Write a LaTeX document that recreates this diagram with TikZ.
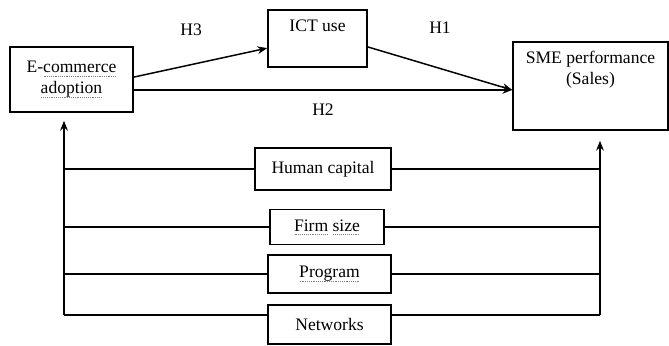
\documentclass[tikz,border=0pt]{standalone}
\usepackage{fontspec}
\setmainfont{Liberation Serif}
\usepackage{xcolor}
\usetikzlibrary{positioning,arrows,arrows.meta}

% spell-check style underline
\newsavebox{\spellbox}
\newcommand{\spell}[1]{\leavevmode\sbox{\spellbox}{#1}%
	\rlap{\color{gray}\raisebox{-2.6pt}{\hbox to \wd\spellbox{\xleaders\hbox to 1.3pt{\hss\rule{0.7pt}{0.6pt}\hss}\hfill}}}%
	\usebox{\spellbox}}

\begin{document}
\begin{tikzpicture}[x=0.025cm, y=-0.025cm, >={Stealth[length=7pt,width=5.5pt]}, line width=1.05pt,
	every node/.style={font=\fontsize{12.5}{15}\selectfont},
	factor/.style={rectangle, draw, align=center, inner sep=0pt}]
	\useasboundingbox (0,0) rectangle (669,345);

	\node[factor, minimum width=3.075cm, minimum height=1.625cm] (ecom) at (71.5,79.5) {E-\spell{commerce}\\\spell{adoption}};
	\node[factor, minimum width=2.475cm, minimum height=1.425cm,
		label={[anchor=north, yshift=-0.13cm]north:ICT use}] (ict) at (317.5,38.5) {};
	\node[factor, minimum width=3.875cm, minimum height=2.2cm,
		label={[anchor=north, align=center, yshift=-0.12cm]north:SME performance\\(Sales)}] (sme) at (590.5,86) {};

	\node[factor, minimum width=3.4cm, minimum height=1.05cm] (hum) at (323,169) {Human capital};
	\node[factor, minimum width=2.85cm, minimum height=0.875cm] (firm) at (327,227) {\spell{Firm} \spell{size}};
	\node[factor, minimum width=3.075cm, minimum height=0.95cm] (prog) at (329.5,274) {\spell{Program}};
	\node[factor, minimum width=3.075cm, minimum height=0.975cm] (net) at (329.5,324.5) {Networks};

	% hypotheses
	\draw[->] ([yshift=0.06cm]ecom.east) -- node[pos=0.43, above=0.58cm] (h3) {H3} ([yshift=-0.24cm]ict.west);
	\draw[->] ([yshift=-0.21cm]ict.east) -- node[above=0.75cm] (h1) {H1} ([yshift=-0.1cm]sme.west);
	\draw[->] ([yshift=-0.26cm]ecom.east) -- node[below=0.22cm] (h2) {H2} ([yshift=-0.26cm]ecom.east -| sme.west);

	% moderators
	\coordinate (lbus) at (64,315);
	\coordinate (rbus) at (600,315);
	\draw[->, shorten >=0.2cm] (lbus) -- (lbus |- ecom.south);
	\draw[->, shorten >=0.25cm] (rbus) -- (rbus |- sme.south);
	\draw (hum.west) -- (hum.west -| lbus);
	\draw (hum.east) -- (hum.east -| rbus);
	\draw (firm.west) -- (firm.west -| lbus);
	\draw (firm.east) -- (firm.east -| rbus);
	\draw (prog.west) -- (prog.west -| lbus);
	\draw (prog.east) -- (prog.east -| rbus);
	\draw (net.west |- lbus) -- (lbus);
	\draw (net.east |- rbus) -- (rbus);
\end{tikzpicture}
\end{document}
